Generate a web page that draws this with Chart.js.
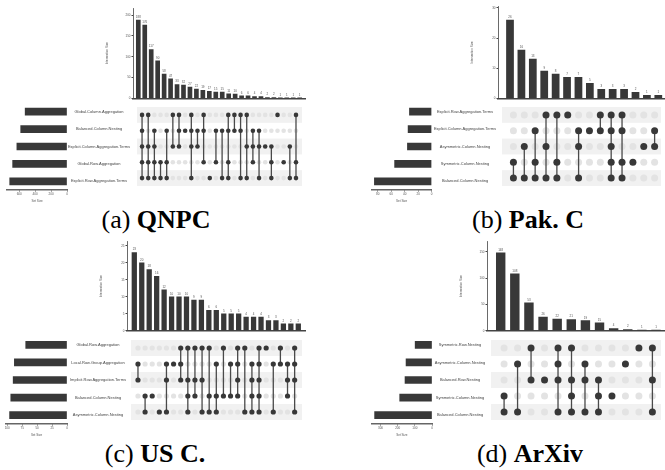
<!DOCTYPE html>
<html lang="en">
<head>
<meta charset="UTF-8">
<title>UpSet plots</title>
<script src="https://cdn.jsdelivr.net/npm/chart.js"></script>
<style>
  body { margin: 0; background: #fff; }
  #fig { position: relative; width: 665px; height: 470px; overflow: hidden; background: #fff; }
  #fig canvas { position: absolute; }
  .cap {
    position: absolute; width: 260px; margin-left: -130px; text-align: center;
    font-family: "Liberation Serif", "Times New Roman", serif; font-size: 26px; line-height: 26px;
    color: #000; white-space: nowrap;
  }
</style>
</head>
<body>
<div id="fig"></div>
<script>
// (a) QNPC
const qnpcSets = ['Global.Column.Aggregation', 'Balanced.Column.Nesting', 'Explicit.Column.Aggregation.Terms', 'Global.Row.Aggregation', 'Explicit.Row.Aggregation.Terms'];
const qnpcSetSizes = [525, 581, 629, 682, 719];
const qnpcCounts = [188, 176, 117, 90, 58, 47, 33, 32, 27, 22, 19, 17, 15, 15, 11, 10, 6, 6, 4, 4, 2, 2, 1, 1, 1, 1];
const qnpcMembers = [[0,1,2,3,4],[0,2,3,4],[1,2,3,4],[3,4],[1,3,4],[0,2],[0,1,2],[1],[0,1,2,4],[1,2],[0,1,3],[4],[1,3],[1,4],[0,1,3,4],[0,1],[0,1,4],[0,2,4],[1,2,3],[1,2,4],[2],[2,3,4],[0],[3],[2,4],[0,3,4]];
const qnpcCountTicks = [0, 50, 100, 150, 200];
const qnpcSizeTicks = [0, 200, 400, 600];

// (b) Pak. C
const pakSets = ['Explicit.Row.Aggregation.Terms', 'Explicit.Column.Aggregation.Terms', 'Asymmetric.Column.Nesting', 'Symmetric.Column.Nesting', 'Balanced.Column.Nesting'];
const pakSetSizes = [33, 35, 36, 55, 85];
const pakCounts = [26, 16, 13, 9, 8, 7, 7, 5, 3, 3, 3, 2, 1, 1];
const pakMembers = [[3,4],[2,4],[1,3,4],[0,2,4],[0,3,4],[0],[1,2,4],[1],[0,1],[0,1,2,3,4],[0,1,3,4],[3],[2],[1,2]];
const pakCountTicks = [0, 10, 20, 30];
const pakSizeTicks = [0, 20, 40, 60, 80];

// (c) US C.
const usSets = ['Global.Row.Aggregation', 'Local.Row.Group.Aggregation', 'Implicit.Row.Aggregation.Terms', 'Balanced.Column.Nesting', 'Asymmetric.Column.Nesting'];
const usSetSizes = [69, 88, 90, 94, 96];
const usCounts = [23, 20, 18, 16, 12, 10, 10, 10, 9, 9, 6, 6, 5, 5, 5, 4, 4, 4, 3, 3, 2, 2, 2];
const usMembers = [[1,2],[3,4],[3],[4],[1,2,4],[1],[0,1,2],[0,2,3,4],[0,2,3],[0,2,4],[0,3,4],[1,3,4],[0,3],[1,3],[0,1,2,3],[0,4],[1,2,3,4],[0,1,2,3,4],[0],[1,4],[0,1],[1,2,3],[0,1,2,4]];
const usCountTicks = [0, 5, 10, 15, 20, 25];
const usSizeTicks = [0, 25, 50, 75, 100];

// (d) ArXiv
const arxivSets = ['Symmetric.Row.Nesting', 'Asymmetric.Column.Nesting', 'Balanced.Row.Nesting', 'Symmetric.Column.Nesting', 'Balanced.Column.Nesting'];
const arxivSetSizes = [98, 151, 157, 188, 334];
const arxivCounts = [148, 108, 53, 26, 22, 21, 19, 15, 4, 2, 1, 1];
const arxivMembers = [[3,4],[1,4],[0,2],[2],[0,1,2,4],[0,2,3,4],[1,2,4],[2,3,4],[3],[1],[0],[0,2,4]];
const arxivCountTicks = [0, 50, 100, 150];
const arxivSizeTicks = [0, 100, 200, 300];

Chart.defaults.font.family = '"Liberation Sans", Arial, sans-serif';

const DARK = '#383838';
const TXT = '#555';
const fig = document.getElementById('fig');

function addCanvas(x, y, w, h) {
    const c = document.createElement('canvas');
    c.width = w; c.height = h;
    c.style.left = x + 'px'; c.style.top = y + 'px';
    c.style.width = w + 'px'; c.style.height = h + 'px';
    fig.appendChild(c);
    return c;
}

function colRange(g, n) {
    const step = (g.last - g.first) / (n - 1);
    return {
        step: step,
        min: -(g.first - g.axisX) / step,
        max: (n - 1) + (g.right - g.last) / step
    };
}

// intersection size bars
function drawCounts(g, counts, ticks) {
    const r = colRange(g, counts.length);
    const cx = g.axisX - 28, cy = Math.floor(g.barTop - 6);
    const w = g.right - cx, h = Math.ceil(g.base + 3) - cy;
    const xAxisH = cy + h - g.base;
    new Chart(addCanvas(cx, cy, w, h), {
        type: 'bar',
        data: {
            datasets: [{
                data: counts.map((v, i) => ({ x: i, y: v })),
                backgroundColor: DARK,
                barThickness: r.step * 0.62
            }]
        },
        options: {
            responsive: false, animation: false, devicePixelRatio: 1,
            layout: { padding: { top: g.barTop - cy, left: 0, right: 0, bottom: 0 } },
            plugins: { legend: { display: false }, tooltip: { enabled: false } },
            scales: {
                x: {
                    type: 'linear', offset: false, min: r.min, max: r.max,
                    grid: { display: false }, ticks: { display: false },
                    border: { color: '#444', width: 1.5 },
                    afterFit: s => { s.height = xAxisH; }
                },
                y: {
                    min: 0, max: g.yMax,
                    grid: { drawOnChartArea: false, tickLength: 1.5, color: '#444' },
                    border: { color: '#444', width: 0.8 },
                    ticks: { font: { size: 3 }, color: TXT, padding: 1 },
                    afterBuildTicks: s => { s.ticks = ticks.map(v => ({ value: v })); },
                    title: { display: true, text: 'Intersection Size', font: { size: 3 }, color: TXT, padding: 0 },
                    afterFit: s => { s.width = 28; }
                }
            }
        },
        plugins: [{
            id: 'valueLabels',
            afterDatasetsDraw(chart) {
                const ctx = chart.ctx;
                ctx.save();
                ctx.font = '3px "Liberation Sans", Arial, sans-serif';
                ctx.fillStyle = TXT;
                ctx.textAlign = 'center';
                ctx.textBaseline = 'bottom';
                chart.getDatasetMeta(0).data.forEach((bar, i) => {
                    ctx.fillText(String(counts[i]), bar.x, bar.y - 1.5);
                });
                ctx.restore();
            }
        }]
    });
}

// dot matrix
function drawMatrix(g, counts, members, nSets) {
    const r = colRange(g, counts.length);
    const w = g.right - g.axisX, h = g.bandBot - g.bandTop;
    const on = [], off = [], lines = [];
    members.forEach((m, i) => {
        for (let s = 0; s < nSets; s++) {
            (m.includes(s) ? on : off).push({ x: i, y: s });
        }
        if (m.length > 1) {
            lines.push({
                type: 'scatter', showLine: true, order: 1,
                data: [{ x: i, y: Math.min(...m) }, { x: i, y: Math.max(...m) }],
                borderColor: '#4a4a4a', borderWidth: 1.3, pointRadius: 0
            });
        }
    });
    new Chart(addCanvas(g.axisX, g.bandTop, w, h), {
        type: 'scatter',
        data: {
            datasets: [
                { data: on, order: 0, backgroundColor: DARK, borderWidth: 0, pointRadius: g.r },
                ...lines,
                { data: off, order: 2, backgroundColor: '#e3e3e3', borderWidth: 0, pointRadius: g.r }
            ]
        },
        options: {
            responsive: false, animation: false, devicePixelRatio: 1,
            layout: { padding: 0 },
            plugins: { legend: { display: false }, tooltip: { enabled: false } },
            scales: {
                x: { type: 'linear', display: false, min: r.min, max: r.max },
                y: { type: 'linear', display: false, min: -0.5, max: nSets - 0.5, reverse: true }
            }
        },
        plugins: [{
            id: 'bands',
            beforeDatasetsDraw(chart) {
                const { ctx, chartArea: a, scales: { y } } = chart;
                ctx.save();
                ctx.fillStyle = '#f1f1f1';
                for (let s = 0; s < nSets; s += 2) {
                    const t = y.getPixelForValue(s - 0.5), b = y.getPixelForValue(s + 0.5);
                    ctx.fillRect(a.left, t, a.right - a.left, b - t);
                }
                ctx.restore();
            }
        }]
    });
}

// set size bars and set names
function drawSets(g, sets, sizes, ticks) {
    const cx = Math.max(0, Math.floor(g.setLeft - 8));
    const w = g.axisX - cx, h = g.bandBot - g.bandTop + 13;
    new Chart(addCanvas(cx, g.bandTop, w, h), {
        type: 'bar',
        data: {
            labels: sets,
            datasets: [{ data: sizes, backgroundColor: DARK, barThickness: 7 }]
        },
        options: {
            indexAxis: 'y',
            responsive: false, animation: false, devicePixelRatio: 1,
            layout: { padding: { top: 0, bottom: 0, left: g.setLeft - cx, right: cx + w - g.setRight } },
            plugins: { legend: { display: false }, tooltip: { enabled: false } },
            scales: {
                y: { display: false, offset: true },
                x: {
                    reverse: true, min: 0, max: g.setMax,
                    grid: { drawOnChartArea: false, tickLength: 1.5, color: '#555' },
                    border: { color: '#666', width: 1.5 },
                    ticks: { font: { size: 3 }, color: TXT, padding: 0.5, maxRotation: 0 },
                    afterBuildTicks: s => { s.ticks = ticks.map(v => ({ value: v })); },
                    title: { display: true, text: 'Set Size', font: { size: 3 }, color: TXT, padding: 0.5 },
                    afterFit: s => { s.height = 13; }
                }
            }
        },
        plugins: [{
            id: 'setNames',
            afterDraw(chart) {
                const ctx = chart.ctx, y = chart.scales.y;
                ctx.save();
                ctx.font = '4px "Liberation Sans", Arial, sans-serif';
                ctx.fillStyle = '#444';
                ctx.textAlign = 'center';
                ctx.textBaseline = 'middle';
                sets.forEach((s, i) => ctx.fillText(s, g.labelX - cx, y.getPixelForValue(i)));
                ctx.restore();
            }
        }]
    });
}

function caption(x, y, tag, name) {
    const d = document.createElement('div');
    d.className = 'cap';
    d.style.left = x + 'px';
    d.style.top = y + 'px';
    d.innerHTML = '(' + tag + ') <b>' + name + '</b>';
    fig.appendChild(d);
}

const panels = [
    { g: { axisX: 133, right: 306, first: 138.3, last: 299.7, barTop: 8, base: 98.3, yMax: 217,
           bandTop: 103, bandBot: 190, setLeft: 7, setRight: 67, setMax: 753, labelX: 99, r: 2.3,
           capX: 156, capY: 207 },
      tag: 'a', name: 'QNPC', sets: qnpcSets, sizes: qnpcSetSizes, counts: qnpcCounts,
      members: qnpcMembers, cTicks: qnpcCountTicks, sTicks: qnpcSizeTicks },
    { g: { axisX: 498, right: 665, first: 510, last: 658.3, barTop: 6.7, base: 98.3, yMax: 30.4,
           bandTop: 103, bandBot: 190, setLeft: 371.7, setRight: 431.7, setMax: 89, labelX: 465, r: 3.5,
           capX: 528, capY: 207 },
      tag: 'b', name: 'Pak. C', sets: pakSets, sizes: pakSetSizes, counts: pakCounts,
      members: pakMembers, cTicks: pakCountTicks, sTicks: pakSizeTicks },
    { g: { axisX: 127, right: 306, first: 134.3, last: 298.3, barTop: 241.7, base: 330.7, yMax: 26.2,
           bandTop: 336, bandBot: 424, setLeft: 6, setRight: 67, setMax: 102, labelX: 98, r: 2.6,
           capX: 155, capY: 441 },
      tag: 'c', name: 'US C.', sets: usSets, sizes: usSetSizes, counts: usCounts,
      members: usMembers, cTicks: usCountTicks, sTicks: usSizeTicks },
    { g: { axisX: 487, right: 665, first: 500.7, last: 656, barTop: 241.7, base: 330.7, yMax: 169,
           bandTop: 336, bandBot: 424, setLeft: 371.7, setRight: 432, setMax: 351, labelX: 460, r: 3.5,
           capX: 530, capY: 441 },
      tag: 'd', name: 'ArXiv', sets: arxivSets, sizes: arxivSetSizes, counts: arxivCounts,
      members: arxivMembers, cTicks: arxivCountTicks, sTicks: arxivSizeTicks }
];

panels.forEach(p => {
    drawCounts(p.g, p.counts, p.cTicks);
    drawMatrix(p.g, p.counts, p.members, p.sets.length);
    drawSets(p.g, p.sets, p.sizes, p.sTicks);
    caption(p.g.capX, p.g.capY, p.tag, p.name);
});
</script>
</body>
</html>
